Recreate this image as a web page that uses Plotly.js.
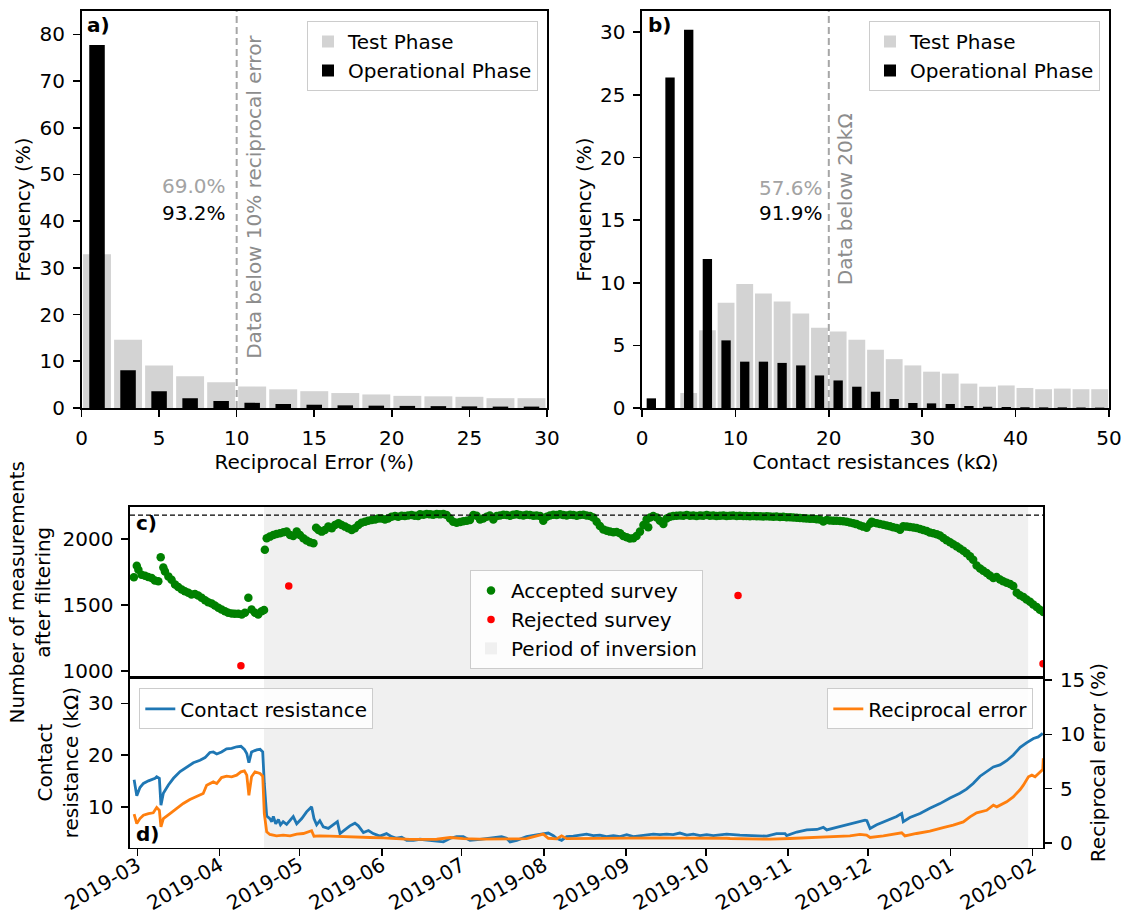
<!DOCTYPE html>
<html><head><meta charset="utf-8">
<script src="https://cdn.plot.ly/plotly-3.0.1.min.js"></script>
<style>html,body{margin:0;padding:0;background:#fff}#chart{width:1128px;height:923px}</style>
</head><body><div id="chart"></div>
<script>
// ---------- Panel a: reciprocal error histogram ----------
const errBinCenters = [1,3,5,7,9,11,13,15,17,19,21,23,25,27,29];
const errTestFreq = [32.9,14.6,9.1,6.8,5.5,4.6,4.0,3.6,3.2,2.9,2.6,2.5,2.4,2.1,2.1];
const errOperFreq = [77.7,8.1,3.6,2.1,1.5,1.1,0.86,0.7,0.57,0.5,0.45,0.4,0.35,0.3,0.3];
const errThreshold = 10;
const errTestBelow = '69.0%';
const errOperBelow = '93.2%';

// ---------- Panel b: contact resistance histogram ----------
const resBinCenters = [1,3,5,7,9,11,13,15,17,19,21,23,25,27,29,31,33,35,37,39,41,43,45,47,49];
const resTestFreq = [0,0,1.2,6.2,8.4,9.9,9.15,8.5,7.55,6.4,6.1,5.45,4.65,3.9,3.4,2.9,2.75,1.95,1.7,1.8,1.6,1.5,1.55,1.5,1.5];
const resOperFreq = [0.77,26.4,30.2,11.9,5.4,3.7,3.7,3.6,3.4,2.6,2.2,1.7,1.3,0.72,0.4,0.37,0.32,0.16,0.1,0.08,0.06,0.05,0.05,0.04,0.03];
const resThreshold = 20;
const resTestBelow = '57.6%';
const resOperBelow = '91.9%';

// ---------- Panel c: number of measurements (days since 2019-03-01) ----------
const dayZeroUTC = Date.UTC(2019, 2, 1);
const acceptedDays = [
 -1.3,-0.2,0.4,1.6,2.9,4.1,5.4,6.6,7.9,8.8,9.8,10.4,11.7,12.9,14.2,15.4,16.7,17.9,19.2,20.4,21.7,22.9,24.2,25.5,26.7,28.0,29.2,30.5,31.7,33.0,34.2,35.5,36.7,38.0,39.3,40.5,41.8,43.0,44.3,45.5,46.8,47.7,
 48.0,48.7,49.9,51.2,52.4,53.7,55.0,56.2,57.5,58.7,60.0,61.2,62.5,63.7,65.0,66.3,67.3,68.2,69.4,70.6,71.9,73.2,74.4,75.7,76.9,78.2,79.4,80.7,81.9,83.2,84.4,85.7,86.9,88.2,89.5,90.7,91.9,93.2,94.4,95.7,97.0,98.2,99.5,100.7,101.9,103.2,104.4,105.7,
 106.4,107.7,108.9,110.2,111.4,112.7,113.9,115.2,116.4,117.7,118.9,120.2,121.5,122.7,124.0,125.2,126.5,127.7,129.0,130.2,131.5,132.7,134.0,135.3,136.5,137.8,139.0,140.3,141.5,142.8,144.0,145.3,146.5,147.8,149.1,150.3,151.6,152.8,154.1,155.3,156.6,157.8,159.1,160.3,161.6,162.9,164.1,165.4,166.6,167.9,169.1,170.4,171.6,172.9,174.1,175.4,176.7,177.9,179.2,180.4,181.7,182.9,184.2,185.4,186.7,187.9,189.2,190.5,191.7,192.3,193.0,194.2,195.5,196.7,198.0,199.2,200.5,201.7,203.0,204.3,205.5,206.8,208.0,209.3,210.5,211.8,213.0,214.3,215.5,216.8,218.0,219.3,220.6,221.8,223.1,224.3,225.6,226.8,
 228.1,229.3,230.6,231.9,233.1,234.4,235.6,236.9,238.1,239.4,240.6,241.9,243.1,244.4,245.7,246.9,248.2,249.4,250.7,251.9,253.2,254.4,255.7,256.9,258.2,259.5,260.7,262.0,263.2,264.5,265.7,267.0,268.2,269.5,270.7,272.0,273.2,274.5,275.8,276.4,277.0,278.3,279.5,280.8,282.0,283.3,284.5,285.8,287.1,288.3,289.6,290.8,292.1,293.3,294.6,295.8,297.1,298.3,299.6,300.9,302.1,303.4,304.6,305.9,307.1,308.4,309.6,310.9,312.1,313.4,314.6,315.9,317.2,318.4,319.7,320.9,322.2,323.4,324.7,325.9,327.2,328.5,329.7,331.0,332.2,333.5,334.7,336.0,337.2,338.5,339.7,341.0
];
const acceptedCount = [
 1711,1799,1769,1731,1723,1713,1706,1686,1681,1864,1786,1756,1718,1693,1656,1638,1618,1605,1593,1580,1585,1573,1555,1537,1522,1512,1497,1480,1467,1454,1442,1437,1434,1434,1429,1442,1555,1467,1442,1429,1454,1462,
 1920,2008,2020,2033,2040,2045,2053,2058,2033,2025,2058,2033,2008,1990,1977,1970,2088,2070,2058,2070,2096,2083,2108,2121,2108,2096,2083,2070,2083,2108,2126,2133,2141,2146,2151,2158,2158,2151,2158,2171,2176,2171,2178,2176,2181,2184,2178,2176,
 2189,2186,2191,2189,2186,2191,2189,2191,2184,2158,2133,2126,2131,2136,2141,2146,2184,2178,2151,2158,2171,2181,2151,2176,2181,2186,2184,2178,2186,2189,2184,2181,2186,2184,2178,2181,2176,2141,2171,2181,2186,2184,2189,2184,2181,2186,2184,2178,2184,2186,2181,2176,2166,2133,2101,2075,2065,2058,2053,2055,2045,2025,2015,2005,2008,2025,2058,2108,2151,2091,2166,2176,2166,2141,2116,2158,2171,2176,2178,2181,2178,2184,2178,2181,2176,2181,2178,2184,2178,2181,2176,2178,2181,2176,2178,2181,2176,2178,
 2176,2177,2175,2176,2174,2175,2173,2174,2172,2171,2172,2169,2170,2167,2168,2165,2163,2161,2160,2158,2156,2155,2152,2150,2135,2146,2143,2141,2140,2138,2136,2133,2128,2122,2115,2105,2096,2088,2118,2133,2128,2121,2116,2110,2104,2098,2092,2085,2072,2098,2096,2093,2090,2085,2078,2070,2062,2052,2045,2038,2028,2010,1992,1978,1962,1946,1930,1912,1894,1870,1844,1800,1778,1760,1744,1725,1706,1713,1695,1681,1670,1660,1645,1593,1575,1562,1542,1525,1505,1485,1465,1447
];
const rejectedDays = [39.0, 57.0, 226.1, 340.9];
const rejectedCount = [1040, 1645, 1573, 1055];
const totalMeasurements = 2183;
const inversionStart = '2019-04-17 17:00';
const inversionEnd = '2020-01-30 07:00';

// ---------- Panel d: contact resistance & reciprocal error ----------
const resistanceDays = [-1.2,-0.2,1.0,2.3,4.2,5.4,6.7,7.3,8.3,8.9,9.8,11.7,13.6,16.1,18.6,21.1,23.6,25.5,27.3,28.6,29.9,31.7,33.6,35.5,37.4,39.0,40.3,41.2,42.0,43.0,44.9,46.2,47.2,47.8,48.7,49.9,50.6,51.2,52.1,53.1,53.9,54.9,56.2,57.5,58.7,60.0,61.9,63.7,65.6,66.5,67.5,68.7,70.0,71.9,73.8,75.3,76.3,78.2,80.0,81.9,83.2,85.1,87.0,88.8,91.3,93.8,95.7,97.6,99.5,101.4,103.9,
 106.4,112.7,115.2,117.8,120.2,122.7,125.2,129.0,132.7,137.1,139.0,140.3,142.8,146.5,149.7,152.8,154.7,156.6,157.8,159.7,161.6,164.1,166.6,169.1,171.6,174.1,176.6,179.2,181.7,184.2,186.7,189.2,191.7,194.2,196.7,199.2,201.7,204.2,206.8,209.3,211.8,214.3,216.8,219.3,221.8,
 226.8,230.6,234.3,236.9,240.6,243.8,244.4,248.2,252.0,255.8,258.2,259.5,263.2,267.0,270.8,273.9,274.6,275.8,278.3,282.0,285.8,287.7,288.3,290.8,294.6,298.3,302.1,305.9,309.6,312.1,314.6,317.2,319.6,322.2,324.7,327.2,329.7,332.3,334.8,337.3,339.1,340.8];
const contactResistance = [15.2,12.1,13.7,14.5,15.0,15.2,15.5,15.8,15.5,10.3,12.6,14.2,15.5,16.8,17.7,18.5,19.0,19.5,20.5,20.6,20.2,20.6,21.2,21.3,21.6,21.7,21.1,20.3,18.5,20.6,21.0,21.1,20.6,14.5,8.2,7.7,7.1,8.1,6.7,7.5,6.5,7.1,6.6,7.4,8.1,6.7,7.7,9.0,10.0,7.7,6.5,7.3,6.1,5.8,6.6,7.1,4.8,5.6,6.3,6.8,6.3,5.0,5.4,4.8,4.3,4.8,4.2,3.9,4.1,3.5,3.5,
 3.7,3.4,3.2,3.9,4.2,4.2,3.5,3.7,3.9,4.2,3.9,3.2,3.5,4.2,4.5,4.8,4.9,4.4,3.9,3.5,4.2,4.3,4.5,4.7,4.4,4.5,4.2,4.4,4.2,4.6,4.2,4.4,4.6,4.7,4.6,4.7,4.6,4.9,4.5,4.7,4.4,4.6,4.4,4.6,4.7,
 4.5,4.4,4.4,4.3,4.8,4.8,4.4,5.1,5.5,5.6,6.0,5.5,6.0,6.5,6.9,7.4,7.3,5.8,6.5,7.3,8.1,8.7,7.1,7.9,8.7,9.7,10.6,11.7,12.6,13.4,14.5,15.9,16.8,17.7,18.1,18.9,20.0,21.5,22.4,23.2,23.5,24.2];
const errorDays = [-1.2,-0.2,1.0,2.3,4.2,6.0,7.3,8.3,8.9,9.8,12.3,14.8,17.3,19.8,22.3,24.8,26.1,27.3,28.6,29.9,31.7,33.6,35.5,37.4,39.0,40.3,41.2,42.0,43.0,44.3,46.2,47.2,47.8,48.7,49.9,52.4,54.9,57.5,60.0,62.5,65.0,65.6,66.5,68.7,72.5,77.5,82.6,87.6,92.6,97.6,102.6,109.5,
 112.7,117.8,122.7,129.0,135.0,140.3,146.5,152.8,154.7,157.8,159.7,161.6,166.6,171.6,176.6,181.7,186.7,191.7,196.7,201.7,206.8,211.8,216.8,221.8,
 223.1,230.6,238.1,245.6,253.2,260.7,268.2,272.0,274.5,275.8,280.8,287.7,288.9,293.3,298.3,303.3,307.1,310.9,313.4,315.9,319.7,322.2,323.5,327.2,329.7,332.3,333.5,335.4,336.7,337.9,339.8,340.8,341.0];
const reciprocalError = [2.64,1.78,2.24,2.55,2.70,2.77,3.26,3.0,1.47,2.24,2.70,3.16,3.63,4.0,4.24,4.55,5.32,5.47,5.62,5.47,6.02,6.15,6.09,6.24,6.55,6.64,6.24,4.39,6.09,6.55,6.39,6.15,2.70,1.01,0.77,0.64,0.71,0.64,0.80,0.86,1.01,1.11,0.61,0.64,0.61,0.55,0.55,0.49,0.46,0.40,0.31,0.31,
 0.33,0.49,0.38,0.35,0.36,0.33,0.38,0.8,0.42,0.36,0.64,0.38,0.4,0.42,0.4,0.43,0.42,0.44,0.45,0.43,0.44,0.42,0.43,0.42,
 0.40,0.34,0.34,0.40,0.46,0.55,0.64,0.77,0.71,0.49,0.64,0.92,0.64,0.86,1.07,1.41,1.63,1.93,2.40,2.77,3.0,3.47,3.32,3.78,4.24,4.92,5.32,6.09,6.24,6.09,6.55,6.76,7.8];

function toDate(d){ return new Date(dayZeroUTC + d*86400000).toISOString().slice(0,16).replace('T',' '); }

const FONT = 'DejaVu Sans, Liberation Sans, sans-serif';
const W = 1128, H = 923;
const px = v => v / W, py = v => 1 - v / H;

const traces = [
  {type:'bar', x:errBinCenters, y:errTestFreq, width:1.8, name:'Test Phase', marker:{color:'#d3d3d3'}, xaxis:'x', yaxis:'y', legend:'legend'},
  {type:'bar', x:errBinCenters, y:errOperFreq, width:1.0, name:'Operational Phase', marker:{color:'#000000'}, xaxis:'x', yaxis:'y', legend:'legend'},
  {type:'bar', x:resBinCenters, y:resTestFreq, width:1.8, name:'Test Phase', marker:{color:'#d3d3d3'}, xaxis:'x2', yaxis:'y2', legend:'legend2'},
  {type:'bar', x:resBinCenters, y:resOperFreq, width:1.0, name:'Operational Phase', marker:{color:'#000000'}, xaxis:'x2', yaxis:'y2', legend:'legend2'},
  {type:'scatter', mode:'markers', x:acceptedDays.map(toDate), y:acceptedCount, name:'Accepted survey', marker:{color:'#008000', size:8.5}, xaxis:'x3', yaxis:'y3', legend:'legend3', legendrank:1},
  {type:'scatter', mode:'markers', x:rejectedDays.map(toDate), y:rejectedCount, name:'Rejected survey', marker:{color:'#ff0000', size:7.5}, xaxis:'x3', yaxis:'y3', legend:'legend3', legendrank:2},
  {type:'scatter', mode:'lines', x:resistanceDays.map(toDate), y:contactResistance, name:'Contact resistance', line:{color:'#1f77b4', width:2.8}, xaxis:'x4', yaxis:'y4', legend:'legend4'},
  {type:'scatter', mode:'lines', x:errorDays.map(toDate), y:reciprocalError, name:'Reciprocal error', line:{color:'#ff7f0e', width:2.8}, xaxis:'x4', yaxis:'y5', legend:'legend5'}
];

const axCommon = {showline:true, linecolor:'#000', linewidth:1.6, mirror:true, ticks:'outside', ticklen:7, tickwidth:1.6, tickcolor:'#000', showgrid:false, zeroline:false, ticklabelstandoff:4, tickfont:{size:20, color:'#000'}};
const legCommon = {bgcolor:'rgba(255,255,255,0.85)', bordercolor:'#cccccc', borderwidth:1, font:{size:20, color:'#000'}};
const dateRange = [toDate(-2.75), toDate(341.0)];

const layout = {
  width:W, height:H, margin:{l:0, r:0, t:0, b:0},
  paper_bgcolor:'#fff', plot_bgcolor:'#fff',
  font:{family:FONT, size:20, color:'#000'},
  barmode:'overlay',
  xaxis: Object.assign({}, axCommon, {domain:[px(81.5), px(547)], anchor:'y', range:[0,30], dtick:5, tick0:0,
    title:{text:'Reciprocal Error (%)', font:{size:20}, standoff:6}}),
  yaxis: Object.assign({}, axCommon, {domain:[py(408), py(11)], anchor:'x', range:[0,85], dtick:10, tick0:0,
    title:{text:'Frequency (%)', font:{size:20}, standoff:3}}),
  xaxis2: Object.assign({}, axCommon, {domain:[px(642), px(1109)], anchor:'y2', range:[0,50], dtick:10, tick0:0,
    title:{text:'Contact resistances (kΩ)', font:{size:20}, standoff:6}}),
  yaxis2: Object.assign({}, axCommon, {domain:[py(408), py(11)], anchor:'x2', range:[0,31.7], dtick:5, tick0:0,
    title:{text:'Frequency (%)', font:{size:20}, standoff:3}}),
  xaxis3: Object.assign({}, axCommon, {domain:[px(130), px(1043.3)], anchor:'y3', type:'date', range:dateRange, ticks:'', showticklabels:false, matches:'x4'}),
  yaxis3: Object.assign({}, axCommon, {domain:[py(677.5), py(507)], anchor:'x3', range:[950,2245], dtick:500, tick0:0,
    title:{text:'Number of measurements<br>after filtering', font:{size:20}, standoff:6}}),
  xaxis4: Object.assign({}, axCommon, {domain:[px(130), px(1043.3)], anchor:'y4', type:'date', range:dateRange, dtick:'M1', tick0:'2019-03-01', tickformat:'%Y-%m', tickangle:-30, ticklabelstandoff:-10}),
  yaxis4: Object.assign({}, axCommon, {domain:[py(847.7), py(677.5)], anchor:'x4', range:[2.07,35], dtick:10, tick0:0, mirror:false,
    title:{text:'Contact<br>resistance (kΩ)', font:{size:20}, standoff:4}}),
  yaxis5: Object.assign({}, axCommon, {overlaying:'y4', side:'right', anchor:'x4', range:[-0.45,15.25], dtick:5, tick0:0, mirror:false,
    title:{text:'Reciprocal error (%)', font:{size:20}, standoff:6}}),
  legend: Object.assign({}, legCommon, {x:px(538), y:py(21), xanchor:'right', yanchor:'top'}),
  legend2: Object.assign({}, legCommon, {x:px(1100), y:py(21), xanchor:'right', yanchor:'top'}),
  legend3: Object.assign({}, legCommon, {x:px(586.5), y:py(619.4), xanchor:'center', yanchor:'middle'}),
  legend4: Object.assign({}, legCommon, {x:px(139.3), y:py(688.3), xanchor:'left', yanchor:'top'}),
  legend5: Object.assign({}, legCommon, {x:px(1033.3), y:py(688.3), xanchor:'right', yanchor:'top'}),
  shapes: [
    {type:'line', xref:'x', yref:'y domain', x0:errThreshold, x1:errThreshold, y0:0, y1:1, line:{color:'#a6a6a6', width:2, dash:'7px,4px'}},
    {type:'line', xref:'x2', yref:'y2 domain', x0:resThreshold, x1:resThreshold, y0:0, y1:1, line:{color:'#a6a6a6', width:2, dash:'7px,4px'}},
    {type:'rect', xref:'x3', yref:'y3 domain', x0:inversionStart, x1:inversionEnd, y0:0, y1:1, fillcolor:'#f0f0f0', line:{width:0}, layer:'below',
      showlegend:true, legend:'legend3', name:'Period of inversion', legendrank:3},
    {type:'rect', xref:'x4', yref:'y4 domain', x0:inversionStart, x1:inversionEnd, y0:0, y1:1, fillcolor:'#f0f0f0', line:{width:0}, layer:'below'},
    {type:'line', xref:'x3 domain', yref:'y3', x0:0, x1:1, y0:totalMeasurements, y1:totalMeasurements, line:{color:'#000', width:1.2, dash:'5px,3px'}}
  ],
  annotations: [
    {xref:'x domain', yref:'y domain', x:0.008, y:1, xanchor:'left', yanchor:'top', text:'<b>a)</b>', showarrow:false, font:{size:20}},
    {xref:'x2 domain', yref:'y2 domain', x:0.008, y:1, xanchor:'left', yanchor:'top', text:'<b>b)</b>', showarrow:false, font:{size:20}},
    {xref:'x3 domain', yref:'y3 domain', x:0.004, y:0.99, xanchor:'left', yanchor:'top', text:'<b>c)</b>', showarrow:false, font:{size:20}},
    {xref:'x4 domain', yref:'y4 domain', x:0.004, y:0, xanchor:'left', yanchor:'bottom', text:'<b>d)</b>', showarrow:false, font:{size:20}},
    {xref:'x', yref:'y', x:11.11, y:45.2, xanchor:'center', yanchor:'middle', textangle:-90, text:'Data below '+errThreshold+'% reciprocal error', showarrow:false, font:{size:20, color:'#8c8c8c'}},
    {xref:'x', yref:'y', x:9.45, y:47.5, xanchor:'right', yanchor:'middle', text:errTestBelow, showarrow:false, font:{size:20, color:'#a3a3a3'}},
    {xref:'x', yref:'y', x:9.45, y:41.7, xanchor:'right', yanchor:'middle', text:errOperBelow, showarrow:false, font:{size:20, color:'#000'}},
    {xref:'x2', yref:'y2', x:21.67, y:16.7, xanchor:'center', yanchor:'middle', textangle:-90, text:'Data below '+resThreshold+'kΩ', showarrow:false, font:{size:20, color:'#8c8c8c'}},
    {xref:'x2', yref:'y2', x:19.54, y:17.55, xanchor:'right', yanchor:'middle', text:resTestBelow, showarrow:false, font:{size:20, color:'#a3a3a3'}},
    {xref:'x2', yref:'y2', x:19.54, y:15.55, xanchor:'right', yanchor:'middle', text:resOperBelow, showarrow:false, font:{size:20, color:'#000'}}
  ]
};

Plotly.newPlot('chart', traces, layout, {staticPlot:true, displayModeBar:false});
</script>
</body></html>
